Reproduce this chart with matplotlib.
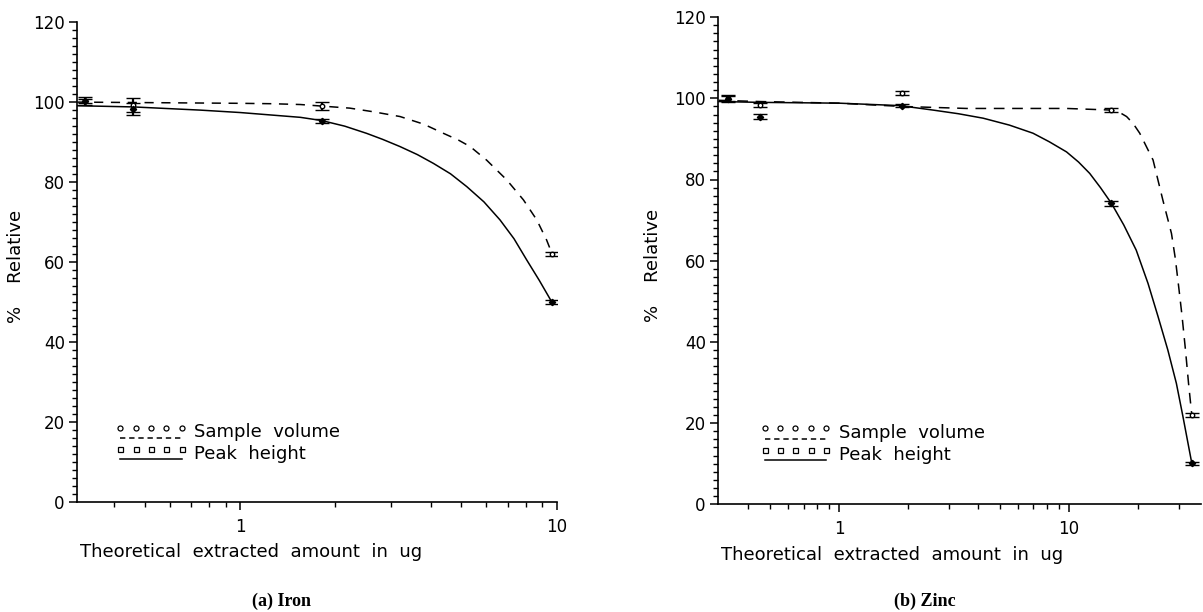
import numpy as np
import matplotlib
matplotlib.use("Agg")
import matplotlib.pyplot as plt
from matplotlib.lines import Line2D
from matplotlib.legend_handler import HandlerBase
from matplotlib.ticker import FixedLocator, NullFormatter, FixedFormatter

# ---------------- data ----------------
# (a) Iron
fe_x = [0.324, 0.46, 1.82, 9.65]
fe_sv = [100.2, 99.2, 98.9, 62.0]
fe_sv_err = [1.0, 1.7, 1.0, 0.4]
fe_ph = [100.2, 98.2, 95.2, 50.0]
fe_ph_err = [0.6, 1.5, 0.5, 0.5]

fe_sv_fit_x = [0.306, 0.46, 1.0, 1.26, 1.55, 2.22, 2.63, 3.2, 3.8, 4.39, 4.9, 5.33,
               6.01, 6.95, 7.85, 8.65, 9.29, 9.65]
fe_sv_fit_y = [99.9, 99.8, 99.6, 99.5, 99.3, 98.4, 97.5, 96.3, 94.4, 92.1, 90.4, 88.8,
               85.4, 80.5, 75.5, 70.5, 65.5, 62.2]
fe_ph_fit_x = [0.306, 0.46, 0.75, 1.0, 1.55, 1.81, 2.14, 2.51, 2.82, 3.2, 3.63, 4.08,
               4.62, 5.2, 5.89, 6.62, 7.33, 8.04, 8.81, 9.65]
fe_ph_fit_y = [99.0, 98.7, 97.9, 97.3, 96.1, 95.3, 93.9, 92.1, 90.6, 88.8, 86.8, 84.6,
               82.0, 78.8, 75.0, 70.5, 65.8, 60.5, 55.4, 50.0]

# (b) Zinc
zn_x = [0.33, 0.452, 1.87, 15.3, 34.2]
zn_sv = [100.0, 98.3, 101.3, 97.1, 22.0]
zn_sv_err = [0.7, 0.5, 0.6, 0.5, 0.6]
zn_ph = [99.8, 95.5, 98.2, 74.1, 10.1]
zn_ph_err = [0.8, 0.6, 0.4, 0.6, 0.4]

zn_sv_fit_x = [0.30, 0.452, 1.0, 1.87, 3.58, 9.75, 15.3, 16.5, 17.8, 19.0, 20.3, 23.2,
               25.6, 27.9, 29.0, 30.0, 31.0, 32.1, 33.1, 34.2]
zn_sv_fit_y = [99.5, 99.2, 98.8, 98.0, 97.5, 97.5, 97.1, 96.6, 95.5, 93.8, 91.4, 84.8,
               74.9, 66.7, 60.5, 53.5, 46.5, 38.0, 29.8, 22.0]
zn_ph_fit_x = [0.30, 0.452, 1.0, 1.835, 2.56, 3.3, 4.23, 5.5, 6.97, 8.2, 9.75, 11.0,
               12.3, 13.7, 15.3, 17.3, 19.6, 22.06, 24.4, 26.9, 29.3, 31.3, 34.2]
zn_ph_fit_y = [99.2, 99.0, 98.8, 98.2, 97.1, 96.2, 95.1, 93.4, 91.4, 89.3, 86.8, 84.3,
               81.5, 78.0, 74.1, 68.8, 62.6, 54.4, 46.2, 38.0, 29.8, 21.6, 10.1]

y_major = [0, 20, 40, 60, 80, 100, 120]
x_major_fe = [1, 10]
x_major_zn = [1, 10]
legend_labels = ["Sample  volume", "Peak  height"]
xlabel_text = "Theoretical  extracted  amount  in  ug"
ylabel_text = "%    Relative"
captions = ["(a) Iron", "(b) Zinc"]

# ---------------- figure ----------------
W, H = 1203, 612
fig = plt.figure(figsize=(W / 100, H / 100), dpi=100)
plt.rcParams['font.family'] = ['DejaVu Sans']


class MarkLineHandler(HandlerBase):
    def create_artists(self, legend, orig_handle, xdescent, ydescent,
                       width, height, fontsize, trans):
        xs = np.linspace(0, width, 5) - xdescent
        ym = height * 0.75 - ydescent
        yl = -height * 0.05 - ydescent
        marks = Line2D(xs, [ym] * 5, ls='none', marker=orig_handle.get_marker(),
                       ms=3.6, mfc='white', mec='black', mew=0.9, transform=trans)
        line = Line2D([-xdescent, width - xdescent], [yl, yl],
                      ls=orig_handle.get_linestyle(), color='black', lw=1.1,
                      transform=trans)
        if orig_handle.get_linestyle() in ('--', 'dashed'):
            line.set_dashes((3.5, 2.5))
        return [marks, line]


def make_panel(rect, xlim, xs, sv, sv_err, ph, ph_err,
               sv_fx, sv_fy, ph_fx, ph_fy, x_major, x_minor, ylab_x, leg_x, dashes):
    ax = fig.add_axes(rect)
    ax.set_xscale('log')
    ax.set_xlim(*xlim)
    ax.set_ylim(0, 120)
    for s in ['top', 'right']:
        ax.spines[s].set_visible(False)
    for s in ['left', 'bottom']:
        ax.spines[s].set_linewidth(1.2)

    # fitted curves
    ax.plot(sv_fx, sv_fy, color='black', lw=1.1, ls='--', dashes=dashes,
            solid_joinstyle='round')
    ax.plot(ph_fx, ph_fy, color='black', lw=1.1, ls='-', solid_joinstyle='round')
    # data with error bars
    ax.errorbar(xs, sv, yerr=sv_err, fmt='o', ms=3.2, mfc='white', mec='black',
                mew=1.0, ecolor='black', elinewidth=1.6, capsize=5, capthick=1.5,
                color='black')
    ax.errorbar(xs, ph, yerr=ph_err, fmt='D', ms=3.2, mfc='black', mec='black',
                mew=1.0, ecolor='black', elinewidth=1.6, capsize=5, capthick=1.5,
                color='black')

    ax.yaxis.set_major_locator(FixedLocator(y_major))
    ax.yaxis.set_minor_locator(FixedLocator(np.arange(0, 121, 2)))
    ax.xaxis.set_major_locator(FixedLocator(x_major))
    ax.xaxis.set_major_formatter(FixedFormatter([str(v) for v in x_major]))
    ax.xaxis.set_minor_locator(FixedLocator(x_minor))
    ax.xaxis.set_minor_formatter(NullFormatter())
    ax.tick_params(which='major', direction='out', length=6, width=1.1,
                   labelsize=12, pad=3)
    ax.tick_params(which='minor', direction='out', length=3.5, width=1.0)
    ax.tick_params(axis='x', which='major', pad=5)

    ax.set_xlabel(xlabel_text, fontsize=13, loc='left')
    ax.xaxis.set_label_coords(0.006, -0.085)
    ax.xaxis.label.set_va('top')
    ax.set_ylabel(ylabel_text, fontsize=13)
    ax.yaxis.set_label_coords(ylab_x, 0.49)

    h1 = Line2D([], [], marker='o', ls='--', color='black')
    h2 = Line2D([], [], marker='s', ls='-', color='black')
    ax.legend([h1, h2], legend_labels, handler_map={Line2D: MarkLineHandler()},
              loc='upper left', bbox_to_anchor=(leg_x, 0.165), frameon=False,
              fontsize=13, handlelength=3.4, handletextpad=0.7, labelspacing=0.2,
              borderpad=0, borderaxespad=0)
    return ax


minor_fe = [0.4, 0.5, 0.6, 0.7, 0.8, 0.9, 2, 3, 4, 5, 6, 7, 8, 9]
minor_zn = [0.4, 0.5, 0.6, 0.7, 0.8, 0.9, 2, 3, 4, 5, 6, 7, 8, 9, 20, 30]

ax1 = make_panel([77.3 / W, 1 - 502.3 / H, (556.7 - 77.3) / W, (502.3 - 21.6) / H],
                 (0.306, 10.0), fe_x, fe_sv, fe_sv_err, fe_ph, fe_ph_err,
                 fe_sv_fit_x, fe_sv_fit_y, fe_ph_fit_x, fe_ph_fit_y,
                 x_major_fe, minor_fe, -0.109, 0.09, (6, 5))
ax2 = make_panel([718.3 / W, 1 - 504.3 / H, (1201 - 718.3) / W, (504.3 - 17.1) / H],
                 (0.298, 37.5), zn_x, zn_sv, zn_sv_err, zn_ph, zn_ph_err,
                 zn_sv_fit_x, zn_sv_fit_y, zn_ph_fit_x, zn_ph_fit_y,
                 x_major_zn, minor_zn, -0.117, 0.096, (7, 5))

fig.text(281 / W, 1 - 601 / H, captions[0], ha='center', va='center',
         fontsize=13, fontweight='bold', family=['Liberation Serif', 'DejaVu Serif'])
fig.text(925 / W, 1 - 601 / H, captions[1], ha='center', va='center',
         fontsize=13, fontweight='bold', family=['Liberation Serif', 'DejaVu Serif'])

fig.savefig('out.png', dpi=100)
